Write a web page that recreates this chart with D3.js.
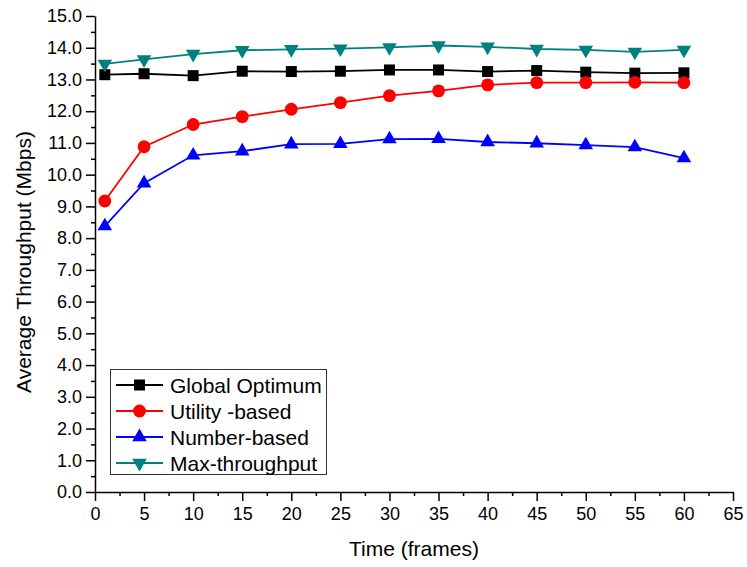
<!DOCTYPE html>
<html>
<head>
<meta charset="utf-8">
<script src="https://cdn.jsdelivr.net/npm/d3@7"></script>
<style>
  body { margin: 0; background: #fff; }
  svg { font-family: "Liberation Sans", Arial, sans-serif; }
</style>
</head>
<body>
<div id="graph"></div>
<script>
// frames sampled, and throughput (Mbps) for each scheme
const frames = [1, 5, 10, 15, 20, 25, 30, 35, 40, 45, 50, 55, 60];
const globalOptimum = [13.15, 13.18, 13.12, 13.26, 13.25, 13.26, 13.3, 13.3, 13.25, 13.28, 13.23, 13.2, 13.21];
const utilityBased = [9.17, 10.88, 11.58, 11.83, 12.06, 12.27, 12.49, 12.64, 12.83, 12.9, 12.9, 12.91, 12.9];
const numberBased = [8.38, 9.73, 10.61, 10.74, 10.96, 10.97, 11.12, 11.13, 11.03, 10.99, 10.93, 10.87, 10.52];
const maxThroughput = [13.49, 13.63, 13.8, 13.92, 13.95, 13.97, 14.01, 14.07, 14.03, 13.96, 13.93, 13.87, 13.93];
const seriesNames = ["Global Optimum", "Utility -based", "Number-based", "Max-throughput"];
const xTicks = d3.range(0, 66, 5);
const yTicks = d3.range(0, 16, 1);

(function() {
    const width = 747, height = 567;

    const svg = d3.select("#graph").append("svg")
      .attr("width", width)
      .attr("height", height);

    const x = d3.scaleLinear().domain([0, 65]).range([95, 733]);
    const y = d3.scaleLinear().domain([0, 15]).range([492, 16]);

    const series = [
      {name: seriesNames[0], values: globalOptimum, color: "#000000", symbol: d3.symbolSquare, size: 121, rotate: 0},
      {name: seriesNames[1], values: utilityBased, color: "#ff0000", symbol: d3.symbolCircle, size: 130, rotate: 0},
      {name: seriesNames[2], values: numberBased, color: "#0000ff", symbol: d3.symbolTriangle, size: 92, rotate: 0},
      {name: seriesNames[3], values: maxThroughput, color: "#008080", symbol: d3.symbolTriangle, size: 92, rotate: 180}
    ];

    // minor ticks first, so the major axis draws on top
    svg.append("g")
      .attr("transform", `translate(0,${y(0)})`)
      .call(d3.axisBottom(x).tickValues(d3.range(2.5, 65, 5)).tickSize(4).tickFormat(""))
      .call(g => g.select(".domain").remove())
      .call(g => g.selectAll("line").attr("stroke-width", 1.5));

    svg.append("g")
      .attr("transform", `translate(${x(0)},0)`)
      .call(d3.axisLeft(y).tickValues(d3.range(0.5, 15, 1)).tickSize(4).tickFormat(""))
      .call(g => g.select(".domain").remove())
      .call(g => g.selectAll("line").attr("stroke-width", 1.5));

    const xAxis = svg.append("g")
      .attr("transform", `translate(0,${y(0)})`)
      .call(d3.axisBottom(x).tickValues(xTicks).tickSize(9).tickPadding(6).tickSizeOuter(0));

    const yAxis = svg.append("g")
      .attr("transform", `translate(${x(0)},0)`)
      .call(d3.axisLeft(y).tickValues(yTicks).tickFormat(d3.format(".1f")).tickSize(9).tickPadding(4).tickSizeOuter(0));

    [xAxis, yAxis].forEach(a => {
        a.selectAll("path, line").attr("stroke", "#000").attr("stroke-width", 1.5);
        a.selectAll("text")
          .attr("fill", "#000")
          .style("font-size", "18px")
          .style("font-family", "'Liberation Sans', Arial, sans-serif");
    });

    svg.append("text")
      .attr("x", 414)
      .attr("y", 556)
      .attr("text-anchor", "middle")
      .style("font-size", "21px")
      .text("Time (frames)");

    svg.append("text")
      .attr("transform", "translate(31,262) rotate(-90)")
      .attr("text-anchor", "middle")
      .style("font-size", "21px")
      .text("Average Throughput (Mbps)");

    const line = d3.line()
      .x((d, i) => x(frames[i]))
      .y(d => y(d));

    series.forEach(s => {
        svg.append("path")
          .datum(s.values)
          .attr("fill", "none")
          .attr("stroke", s.color)
          .attr("stroke-width", 1.8)
          .attr("d", line);
    });

    series.forEach(s => {
        svg.append("g").selectAll("path")
          .data(s.values)
          .enter().append("path")
          .attr("transform", (d, i) => `translate(${x(frames[i])},${y(d)}) rotate(${s.rotate})`)
          .attr("d", d3.symbol().type(s.symbol).size(s.size))
          .attr("fill", s.color);
    });

    // legend
    const legend = svg.append("g");
    legend.append("rect")
      .attr("x", 110.5)
      .attr("y", 369.5)
      .attr("width", 216)
      .attr("height", 105)
      .attr("fill", "#fff")
      .attr("stroke", "#333")
      .attr("stroke-width", 1);

    series.forEach((s, i) => {
        const cy = 385 + i * 26;
        legend.append("line")
          .attr("x1", 116).attr("x2", 163)
          .attr("y1", cy).attr("y2", cy)
          .attr("stroke", s.color)
          .attr("stroke-width", 1.8);
        legend.append("path")
          .attr("transform", `translate(139.5,${cy}) rotate(${s.rotate})`)
          .attr("d", d3.symbol().type(s.symbol).size(s.size))
          .attr("fill", s.color);
        legend.append("text")
          .attr("x", 170)
          .attr("y", cy)
          .attr("dy", "0.36em")
          .style("font-size", "21px")
          .text(s.name);
    });
})()
</script>
</body>
</html>
